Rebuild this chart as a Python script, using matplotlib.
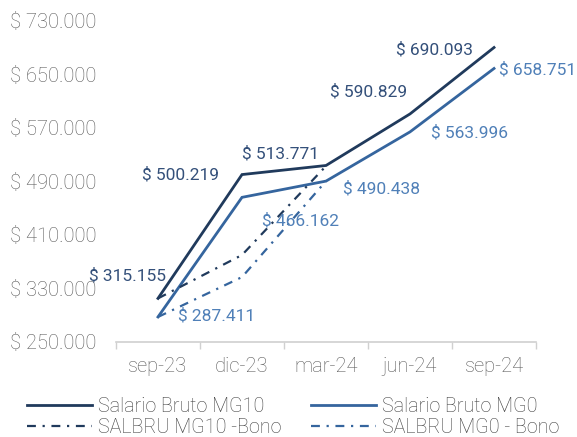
import matplotlib
matplotlib.use("Agg")
import matplotlib.pyplot as plt
from matplotlib.ticker import FuncFormatter, FixedLocator
import numpy as np

meses = ["sep-23", "dic-23", "mar-24", "jun-24", "sep-24"]
mg10 = [315155, 500219, 513771, 590829, 690093]
mg0 = [287411, 466162, 490438, 563996, 658751]
mg10_bono = [315155, 380000, 513000]
mg0_bono = [287411, 347000, 490438]
yticks = [250000, 330000, 410000, 490000, 570000, 650000, 730000]

# label offsets in pixels (dx, dy) relative to each point
off10 = [(-30, 23), (-61, 0), (-46, 12), (-41, 22), (-60, -2)]
off0 = [(59, 1), (59, -23), (56, -8), (59, -1), (44, -1)]

c_dark = "#203A5C"
c_mid = "#35659E"
c_lab_dark = "#34507A"
c_lab_mid = "#5080B8"
c_gray = "#595959"

plt.rcParams['font.family'] = ['Roboto', 'DejaVu Sans']
plt.rcParams['font.weight'] = 'light'

fig = plt.figure(figsize=(5.77, 4.37), dpi=100)
ax = fig.add_axes([0.201, 0.2174, 0.728, 0.735])

x = np.arange(len(meses))
l1, = ax.plot(x, mg10, color=c_dark, lw=2, label="Salario Bruto MG10", solid_joinstyle="miter")
l2, = ax.plot(x, mg0, color=c_mid, lw=2, label="Salario Bruto MG0", solid_joinstyle="miter")
l3, = ax.plot(x[:len(mg10_bono)], mg10_bono, color=c_dark, lw=1.6, ls=(0, (4, 3, 1, 3)),
              label="SALBRU MG10 -Bono")
l4, = ax.plot(x[:len(mg0_bono)], mg0_bono, color=c_mid, lw=1.6, ls=(0, (4, 3, 1, 3)),
              label="SALBRU MG0 - Bono")

def fmt(v):
    return "$ " + f"{v:,.0f}".replace(",", ".")

for i, v in enumerate(mg10):
    ax.annotate(fmt(v), (x[i], v), xytext=off10[i], textcoords="offset pixels",
                ha="center", va="center", fontsize=12.5, color=c_lab_dark, fontweight="normal",
                annotation_clip=False)
for i, v in enumerate(mg0):
    ax.annotate(fmt(v), (x[i], v), xytext=off0[i], textcoords="offset pixels",
                ha="center", va="center", fontsize=12.5, color=c_lab_mid, fontweight="normal",
                annotation_clip=False)

ax.set_xlim(-0.5, len(meses) - 0.5)
ax.set_ylim(250000, 730000)
ax.set_yticks(yticks)
ax.yaxis.set_major_formatter(FuncFormatter(lambda v, p: fmt(v)))
ax.tick_params(axis="y", length=0, labelsize=14.5, labelcolor=c_gray, pad=14)
ax.set_xticks(x)
ax.set_xticklabels(meses)
ax.xaxis.set_minor_locator(FixedLocator(np.arange(-0.5, len(meses), 1)))
ax.tick_params(axis="x", which="major", length=0, labelsize=14.5, labelcolor=c_gray, pad=11)
ax.tick_params(axis="x", which="minor", length=5, color="#D0D0D0", width=1)
for s in ["top", "right", "left"]:
    ax.spines[s].set_visible(False)
ax.spines["bottom"].set_color("#D0D0D0")
ax.spines["bottom"].set_linewidth(1.2)

fig.legend([l1, l3, l2, l4], [l.get_label() for l in [l1, l3, l2, l4]],
           loc="upper left", bbox_to_anchor=(0.016, 0.133), ncol=2, frameon=False,
           fontsize=14.2, handlelength=3.3, handletextpad=0.3, columnspacing=1.5,
           labelspacing=0.1, labelcolor="#404040")

fig.savefig("out.png", dpi=100)
